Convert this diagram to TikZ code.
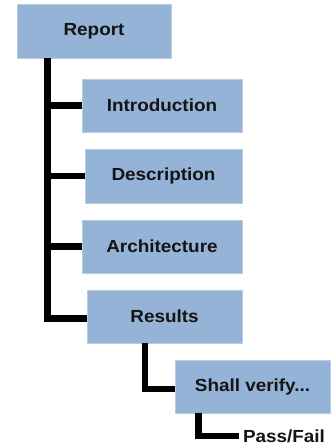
\documentclass[tikz,border=0pt]{standalone}
\usepackage{fontspec}
\setmainfont{Liberation Sans}[FakeStretch=1.08]
\definecolor{boxblue}{HTML}{95B3D7}
\definecolor{boxedge}{HTML}{B9CCE4}
\definecolor{textdark}{HTML}{141414}
\begin{document}
\begin{tikzpicture}[x=1pt,y=-1pt,
  box/.style={fill=boxblue, draw=boxedge, line width=0.8pt, inner sep=0pt,
    font=\fontsize{17.5}{20}\selectfont\bfseries, text=textdark},
  label/.style={inner sep=4pt, font=\fontsize{17.5}{20}\selectfont\bfseries, text=textdark},
  link/.style={line width=6.5pt, draw=black, line join=miter, line cap=butt}]
\useasboundingbox (0,0) rectangle (330,446);

% outline entries
\node[box, minimum width=154pt, minimum height=54pt] (report)  at (94,31)     {Report};
\node[box, minimum width=160pt, minimum height=53pt] (intro)   at (162,105.5) {Introduction};
\node[box, minimum width=157pt, minimum height=54pt] (desc)    at (163.5,176) {Description};
\node[box, minimum width=160pt, minimum height=53pt] (arch)    at (162,246.5) {Architecture};
\node[box, minimum width=155pt, minimum height=53pt] (results) at (164.5,316.5) {Results};
\node[box, minimum width=155pt, minimum height=53pt] (shall)   at (252.5,386.5) {Shall verify...};
\node[label] (pf) at (284,436) {Pass/Fail};

% trunk positions of the tree lines
\coordinate (t0) at (47.5,0);
\coordinate (t1) at (145,0);
\coordinate (t2) at (198.5,0);

% connectors
\draw[link] (report.south -| t0) |- ([yshift=-2pt]results.west);
\draw[link] (intro.west -| t0) -- (intro.west);
\draw[link] (desc.west -| t0) -- (desc.west);
\draw[link] (arch.west -| t0) -- (arch.west);
\draw[link] (results.south -| t1) |- ([yshift=-2.5pt]shall.west);
\draw[link] (shall.south -| t2) |- (pf.west);
\end{tikzpicture}
\end{document}
